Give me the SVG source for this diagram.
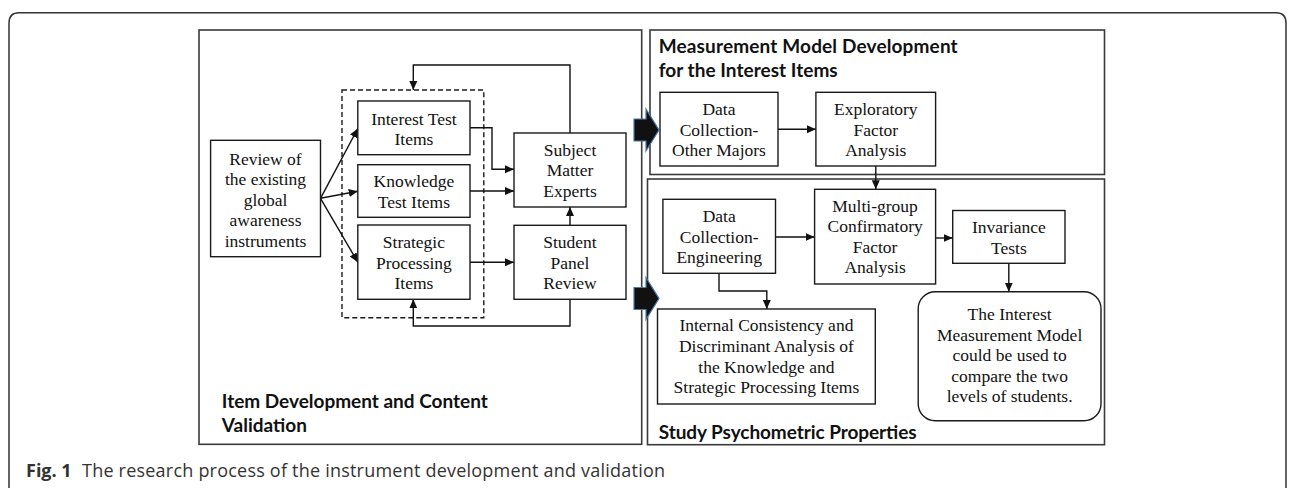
<svg xmlns="http://www.w3.org/2000/svg" width="1292" height="488" viewBox="0 0 1292 488">
  <style>
    .panel{fill:none;stroke:#3a3a3a;stroke-width:1.6}
    .box{fill:#fff;stroke:#1a1a1a;stroke-width:1.4}
    .dash{fill:none;stroke:#1a1a1a;stroke-width:1.4;stroke-dasharray:5 3}
    .t{font-family:"Liberation Serif","Times New Roman",serif;font-size:17.5px;text-anchor:middle;fill:#111}
    .h{font-family:Lato,"Liberation Sans",sans-serif;font-weight:700;font-size:19px;fill:#111}
    .cap{font-family:"Open Sans","Noto Sans",sans-serif;font-size:18px;fill:#333}
    .c{fill:none;stroke:#111;stroke-width:1.4}
    .block{fill:#111;stroke:#4a78ad;stroke-width:1.2}
  </style>
  <defs>
    <marker id="ah" markerUnits="userSpaceOnUse" markerWidth="10" markerHeight="10" refX="9" refY="5" orient="auto">
      <path d="M0,1 L9,5 L0,9 Z" fill="#111"/>
    </marker>
  </defs>

  <rect width="1292" height="488" fill="#fff"/>

  <!-- figure frame, open at the bottom -->
  <path d="M9,488 V23 Q9,12.7 19,12.7 H1276 Q1286,12.7 1286,23 V488" fill="none" stroke="#333" stroke-width="1.5"/>

  <!-- stage panels -->
  <g id="panel-item-development">
    <rect class="panel" x="199" y="30" width="442.7" height="414.3"/>
    <text class="h"><tspan x="221.8" y="408.3" textLength="266">Item Development and Content</tspan><tspan x="221.8" y="431.7">Validation</tspan></text>
  </g>
  <g id="panel-measurement-model">
    <rect class="panel" x="650" y="30" width="454.5" height="144.5"/>
    <text class="h"><tspan x="658.7" y="53.3" textLength="299">Measurement Model Development</tspan><tspan x="658.7" y="76.7" textLength="179">for the Interest Items</tspan></text>
  </g>
  <g id="panel-psychometric">
    <rect class="panel" x="647.5" y="179" width="457" height="265.7"/>
    <text class="h" x="658.7" y="439" textLength="258">Study Psychometric Properties</text>
  </g>

  <!-- item set grouping -->
  <rect id="item-set" class="dash" x="342" y="90" width="141.8" height="227.7"/>

  <!-- connectors -->
  <g id="connectors">
    <line class="c" x1="320.5" y1="198.3" x2="357.8" y2="128.5" marker-end="url(#ah)"/>
    <line class="c" x1="320.5" y1="198.3" x2="357.8" y2="191.3" marker-end="url(#ah)"/>
    <line class="c" x1="320.5" y1="198.3" x2="357.8" y2="262.2" marker-end="url(#ah)"/>
    <polyline class="c" points="470,127.7 492,127.7 492,169.3 514,169.3" marker-end="url(#ah)"/>
    <line class="c" x1="470" y1="191" x2="514" y2="191" marker-end="url(#ah)"/>
    <line class="c" x1="470" y1="262.3" x2="514" y2="262.3" marker-end="url(#ah)"/>
    <line class="c" x1="570" y1="225.3" x2="570" y2="207" marker-end="url(#ah)"/>
    <polyline class="c" points="570,133 570,65 413.3,65 413.3,90" marker-end="url(#ah)"/>
    <polyline class="c" points="570,299.3 570,326 413.3,326 413.3,299.3" marker-end="url(#ah)"/>
    <line class="c" x1="778" y1="129.3" x2="815.9" y2="129.3" marker-end="url(#ah)"/>
    <line class="c" x1="875.8" y1="166" x2="875.8" y2="189.3" marker-end="url(#ah)"/>
    <line class="c" x1="775.5" y1="237" x2="814.6" y2="237" marker-end="url(#ah)"/>
    <line class="c" x1="935.6" y1="238" x2="952.7" y2="238" marker-end="url(#ah)"/>
    <line class="c" x1="1008.8" y1="263.3" x2="1008.8" y2="291.7" marker-end="url(#ah)"/>
    <polyline class="c" points="719,273.3 719,291 766.8,291 766.8,309" marker-end="url(#ah)"/>
    <path class="block" d="M634,119 H646 V109 L659,130 L646,151 V141 H634 Z"/>
    <path class="block" d="M634,287.5 H646 V277.5 L659,298.5 L646,319.5 V309.5 H634 Z"/>
  </g>

  <!-- left stage nodes -->
  <g id="review">
    <rect class="box" x="210.6" y="140.3" width="109.9" height="116.4"/>
    <text class="t"><tspan x="265.5" y="164.5">Review of</tspan><tspan x="265.5" y="185">the existing</tspan><tspan x="265.5" y="205.5">global</tspan><tspan x="265.5" y="226">awareness</tspan><tspan x="265.5" y="246.5">instruments</tspan></text>
  </g>
  <g id="interest-items">
    <rect class="box" x="357.8" y="101" width="112.2" height="53.7"/>
    <text class="t"><tspan x="413.9" y="124.5">Interest Test</tspan><tspan x="413.9" y="145">Items</tspan></text>
  </g>
  <g id="knowledge-items">
    <rect class="box" x="357.8" y="164.7" width="112.2" height="52.6"/>
    <text class="t"><tspan x="413.9" y="187">Knowledge</tspan><tspan x="413.9" y="207.5">Test Items</tspan></text>
  </g>
  <g id="strategic-items">
    <rect class="box" x="357.8" y="225" width="112.2" height="74.3"/>
    <text class="t"><tspan x="413.9" y="248.3">Strategic</tspan><tspan x="413.9" y="268.8">Processing</tspan><tspan x="413.9" y="289.3">Items</tspan></text>
  </g>
  <g id="subject-matter-experts">
    <rect class="box" x="514" y="133" width="112" height="74"/>
    <text class="t"><tspan x="570" y="155.8">Subject</tspan><tspan x="570" y="176.3">Matter</tspan><tspan x="570" y="196.8">Experts</tspan></text>
  </g>
  <g id="student-panel">
    <rect class="box" x="514" y="225.3" width="112" height="74"/>
    <text class="t"><tspan x="570" y="248.3">Student</tspan><tspan x="570" y="268.8">Panel</tspan><tspan x="570" y="289.3">Review</tspan></text>
  </g>

  <!-- measurement model nodes -->
  <g id="data-other-majors">
    <rect class="box" x="660" y="92.3" width="118" height="73.7"/>
    <text class="t"><tspan x="719" y="115">Data</tspan><tspan x="719" y="135.5">Collection-</tspan><tspan x="719" y="156">Other Majors</tspan></text>
  </g>
  <g id="efa">
    <rect class="box" x="815.9" y="92.3" width="119.7" height="73.7"/>
    <text class="t"><tspan x="875.8" y="115">Exploratory</tspan><tspan x="875.8" y="135.5">Factor</tspan><tspan x="875.8" y="156">Analysis</tspan></text>
  </g>

  <!-- psychometric nodes -->
  <g id="data-engineering">
    <rect class="box" x="662.9" y="199.3" width="112.6" height="74"/>
    <text class="t"><tspan x="719.2" y="222">Data</tspan><tspan x="719.2" y="242.5">Collection-</tspan><tspan x="719.2" y="263">Engineering</tspan></text>
  </g>
  <g id="mgcfa">
    <rect class="box" x="814.6" y="189.3" width="121" height="94.7"/>
    <text class="t"><tspan x="875.1" y="211.5">Multi-group</tspan><tspan x="875.1" y="232">Confirmatory</tspan><tspan x="875.1" y="252.5">Factor</tspan><tspan x="875.1" y="273">Analysis</tspan></text>
  </g>
  <g id="invariance">
    <rect class="box" x="952.7" y="210.5" width="112.3" height="52.8"/>
    <text class="t"><tspan x="1008.9" y="233">Invariance</tspan><tspan x="1008.9" y="253.5">Tests</tspan></text>
  </g>
  <g id="internal-consistency">
    <rect class="box" x="657.5" y="309" width="217.8" height="95"/>
    <text class="t"><tspan x="766.4" y="331">Internal Consistency and</tspan><tspan x="766.4" y="351.5">Discriminant Analysis of</tspan><tspan x="766.4" y="372.5">the Knowledge and</tspan><tspan x="766.4" y="393.3">Strategic Processing Items</tspan></text>
  </g>
  <g id="outcome">
    <rect class="box" x="918.2" y="291.7" width="182.8" height="129" rx="17" ry="17"/>
    <text class="t"><tspan x="1009.6" y="320">The Interest</tspan><tspan x="1009.6" y="340.5">Measurement Model</tspan><tspan x="1009.6" y="361">could be used to</tspan><tspan x="1009.6" y="381.5">compare the two</tspan><tspan x="1009.6" y="402">levels of students.</tspan></text>
  </g>

  <!-- caption -->
  <text class="cap" x="26" y="476.5" font-weight="700">Fig. 1</text>
  <text class="cap" x="82" y="476.5" textLength="583">The research process of the instrument development and validation</text>
</svg>
